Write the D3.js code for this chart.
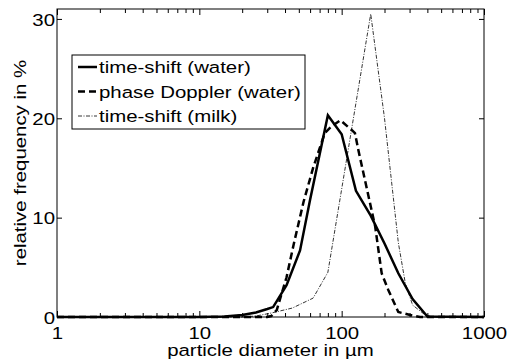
<!DOCTYPE html>
<html>
<head>
<meta charset="utf-8">
<script src="https://cdn.jsdelivr.net/npm/d3@7"></script>
<style>
  body { margin: 0; background: #fff; }
  text { font-family: "Liberation Sans", Arial, sans-serif; fill: #000; }
</style>
</head>
<body>
<div id="chart"></div>
<script>
// particle diameter (um) and relative frequency (%) for each series
let shiftWaterD = [1, 10, 15, 20, 25, 30, 33, 41, 51, 60, 80, 100, 126, 160, 200, 250, 315, 400, 1000];
let shiftWaterF = [0, 0, 0.05, 0.2, 0.45, 0.8, 1.0, 3.2, 6.7, 11.8, 20.3, 18.4, 12.7, 10.2, 7.4, 4.4, 1.8, 0.05, 0];

let dopplerD = [1, 30, 32, 35, 41, 46, 54, 63, 76, 85, 98, 118, 124, 131, 172, 191, 213, 250, 303, 355, 1000];
let dopplerF = [0, 0, 0.1, 0.7, 4.0, 7.3, 11.6, 15.0, 18.5, 19.2, 19.8, 18.8, 18.5, 16.8, 9.1, 4.4, 2.7, 0.5, 0.2, 0, 0];

let shiftMilkD = [1, 20, 25, 32, 45, 63, 80, 160, 200, 250, 280, 315, 375, 430, 1000];
let shiftMilkF = [0, 0, 0.1, 0.4, 0.9, 1.9, 4.5, 30.5, 20, 7.5, 3.4, 1.2, 0.35, 0, 0];

let seriesNames = ["time-shift (water)", "phase Doppler (water)", "time-shift (milk)"];
let xMajor = [1, 10, 100, 1000];
let yTicks = [0, 10, 20, 30];

let width = 507;
let height = 363;
let mLeft = 57, mRight = 484, mTop = 9, mBottom = 317;
let sx = 1.2; // horizontal stretch of the fonts

let x = d3.scaleLog().domain([1, 1000]).range([mLeft, mRight]);
let y = d3.scaleLinear().domain([0, 31]).range([mBottom, mTop]);

let xMinor = [];
[1, 10, 100].forEach(function (dec) {
  for (let k = 2; k <= 9; k++) xMinor.push(dec * k);
});

let svg = d3.select('#chart')
  .append("svg")
  .attr("width", width)
  .attr("height", height);

// box
svg.append("rect")
  .attr("x", mLeft).attr("y", mTop)
  .attr("width", mRight - mLeft).attr("height", mBottom - mTop)
  .attr("fill", "none").attr("stroke", "#000").attr("stroke-width", 1);

function tickAxis(axis, tx, ty) {
  let g = svg.append("g")
    .attr("transform", "translate(" + tx + "," + ty + ")")
    .call(axis);
  g.select(".domain").remove();
  g.selectAll("line").attr("stroke", "#000");
  return g;
}

// inward ticks, bottom and top
tickAxis(d3.axisBottom(x).tickValues(xMinor).tickSize(-4).tickFormat(""), 0, mBottom);
tickAxis(d3.axisTop(x).tickValues(xMinor).tickSize(-4).tickFormat(""), 0, mTop);
tickAxis(d3.axisTop(x).tickValues(xMajor).tickSize(-6).tickFormat(""), 0, mTop);
let gx = tickAxis(d3.axisBottom(x).tickValues(xMajor).tickSize(-6).tickPadding(0).tickFormat(d3.format("d")), 0, mBottom);
gx.selectAll("text")
  .attr("y", null).attr("dy", null)
  .attr("font-size", 17)
  .attr("transform", "translate(0,21.5) scale(" + sx + ",1)");

let gy = tickAxis(d3.axisLeft(y).tickValues(yTicks).tickSize(-5).tickPadding(0), mLeft, 0);
gy.selectAll("text")
  .attr("x", null).attr("dy", "0.36em")
  .attr("font-size", 17)
  .attr("transform", "translate(-2,0) scale(" + sx + ",1)");
tickAxis(d3.axisRight(y).tickValues(yTicks).tickSize(-5).tickFormat(""), mRight, 0);

// axis titles
svg.append("text")
  .attr("text-anchor", "middle")
  .attr("font-size", 17)
  .attr("transform", "translate(" + (mLeft + mRight) / 2 + ",356) scale(" + sx + ",1)")
  .text("particle diameter in µm");

svg.append("text")
  .attr("text-anchor", "middle")
  .attr("font-size", 17)
  .attr("transform", "translate(26," + (mTop + mBottom) / 2 + ") rotate(-90) scale(" + sx + ",1)")
  .text("relative frequency in %");

// curves
let styles = [
  { w: 2.5, dash: null },
  { w: 2.5, dash: "7,4" },
  { w: 0.8, dash: "4,1.5,1,1.5" }
];
let series = [
  d3.zip(shiftWaterD, shiftWaterF),
  d3.zip(dopplerD, dopplerF),
  d3.zip(shiftMilkD, shiftMilkF)
];

let line = d3.line()
  .x(function (d) { return x(d[0]); })
  .y(function (d) { return y(d[1]); });

series.forEach(function (s, i) {
  svg.append("path")
    .datum(s)
    .attr("d", line)
    .attr("fill", "none")
    .attr("stroke", "#000")
    .attr("stroke-width", styles[i].w)
    .attr("stroke-dasharray", styles[i].dash)
    .attr("stroke-linejoin", "miter");
});

// legend
let legend = svg.append("g");
legend.append("rect")
  .attr("x", 72).attr("y", 55)
  .attr("width", 233).attr("height", 74)
  .attr("fill", "#fff").attr("stroke", "#000").attr("stroke-width", 1);

seriesNames.forEach(function (name, i) {
  let cy = 67 + i * 24.5;
  legend.append("line")
    .attr("x1", 78).attr("x2", 97)
    .attr("y1", cy).attr("y2", cy)
    .attr("stroke", "#000")
    .attr("stroke-width", styles[i].w)
    .attr("stroke-dasharray", styles[i].dash);
  legend.append("text")
    .attr("font-size", 17)
    .attr("dy", "0.36em")
    .attr("transform", "translate(99," + cy + ") scale(" + sx + ",1)")
    .text(name);
});
</script>
</body>
</html>
